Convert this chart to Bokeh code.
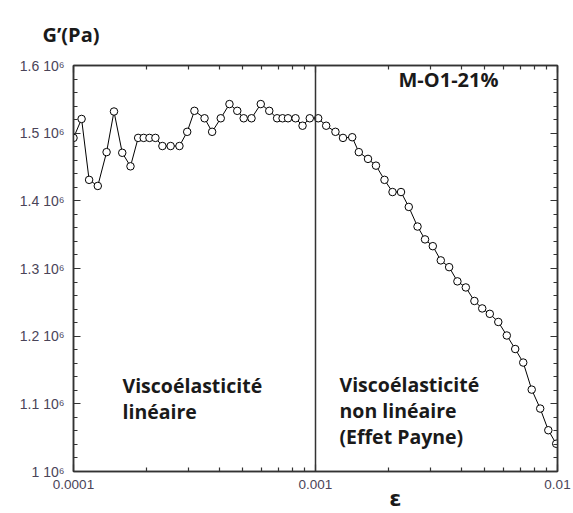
from bokeh.plotting import figure
from bokeh.models import FixedTicker, LogAxis, LinearAxis, Span, Label, Range1d, CustomJSTickFormatter
from bokeh.embed import file_html
from bokeh.resources import INLINE

# ---- data ----
strain = [1.00e-4, 1.08e-4, 1.16e-4, 1.26e-4, 1.37e-4, 1.47e-4, 1.59e-4, 1.72e-4,
          1.85e-4, 1.95e-4, 2.06e-4, 2.18e-4, 2.33e-4, 2.52e-4, 2.74e-4, 2.95e-4,
          3.16e-4, 3.48e-4, 3.74e-4, 4.06e-4, 4.41e-4, 4.75e-4, 5.05e-4, 5.44e-4,
          5.94e-4, 6.44e-4, 6.94e-4, 7.31e-4, 7.70e-4, 8.27e-4, 8.84e-4, 9.47e-4,
          1.026e-3, 1.107e-3, 1.209e-3, 1.299e-3, 1.418e-3, 1.510e-3, 1.648e-3, 1.778e-3,
          1.928e-3, 2.081e-3, 2.256e-3, 2.429e-3, 2.640e-3, 2.835e-3, 3.053e-3, 3.294e-3,
          3.566e-3, 3.858e-3, 4.180e-3, 4.536e-3, 4.885e-3, 5.251e-3, 5.693e-3, 6.173e-3,
          6.687e-3, 7.217e-3, 7.824e-3, 8.482e-3, 9.162e-3, 9.876e-3]
g_prime = [1.493e6, 1.521e6, 1.431e6, 1.422e6, 1.472e6, 1.532e6, 1.471e6, 1.451e6,
           1.493e6, 1.493e6, 1.493e6, 1.493e6, 1.481e6, 1.481e6, 1.481e6, 1.502e6,
           1.533e6, 1.522e6, 1.502e6, 1.522e6, 1.543e6, 1.533e6, 1.522e6, 1.522e6,
           1.543e6, 1.533e6, 1.522e6, 1.522e6, 1.522e6, 1.522e6, 1.511e6, 1.522e6,
           1.522e6, 1.511e6, 1.502e6, 1.493e6, 1.494e6, 1.472e6, 1.462e6, 1.452e6,
           1.431e6, 1.413e6, 1.413e6, 1.391e6, 1.362e6, 1.343e6, 1.333e6, 1.312e6,
           1.302e6, 1.281e6, 1.272e6, 1.252e6, 1.241e6, 1.233e6, 1.221e6, 1.201e6,
           1.181e6, 1.161e6, 1.121e6, 1.093e6, 1.061e6, 1.041e6]

x_ticks = [1e-4, 1e-3, 1e-2]
x_tick_labels = ["0.0001", "0.001", "0.01"]
y_ticks = [1.0e6, 1.1e6, 1.2e6, 1.3e6, 1.4e6, 1.5e6, 1.6e6]
y_tick_labels = ["1 10⁶", "1.1 10⁶", "1.2 10⁶", "1.3 10⁶", "1.4 10⁶", "1.5 10⁶", "1.6 10⁶"]
transition_strain = 1e-3
x_title = "ε"
x_title_at = 2.14e-3   # where the ε sits along the strain axis
y_title = "G’(Pa)"

x_minor = [k * 10.0 ** e for e in (-4, -3) for k in range(2, 10)]
y_minor = [1.0e6 + i * 2.0e4 for i in range(31)]

FRAME = "#333333"
LABEL_COLOR = "#4a4458"
TEXT = "#1a1a1a"

p = figure(width=573, height=513, x_axis_type="log",
           x_range=Range1d(1e-4, 1e-2), y_range=Range1d(1.0e6, 1.6e6),
           output_backend="svg", toolbar_location=None,
           min_border_left=73, min_border_right=16, min_border_top=63, min_border_bottom=39)
p.grid.visible = False
p.outline_line_color = FRAME
p.outline_line_width = 1.5
p.background_fill_color = "white"
p.border_fill_color = "white"

def style_axis(ax, ticker, show_labels):
    ax.ticker = ticker
    ax.axis_line_color = FRAME
    ax.axis_line_width = 1.5
    ax.major_tick_in = 7
    ax.major_tick_out = 0
    ax.minor_tick_in = 4
    ax.minor_tick_out = 0
    ax.major_tick_line_color = FRAME
    ax.minor_tick_line_color = FRAME
    ax.major_tick_line_width = 1.2
    ax.minor_tick_line_width = 1.2
    if not show_labels:
        ax.formatter = CustomJSTickFormatter(code="return ''")
        ax.major_label_standoff = 0
        ax.major_label_text_font_size = "1px"

style_axis(p.xaxis[0], FixedTicker(ticks=x_ticks, minor_ticks=x_minor), True)
style_axis(p.yaxis[0], FixedTicker(ticks=y_ticks, minor_ticks=y_minor), True)
p.xaxis[0].major_label_overrides = dict(zip(x_ticks, x_tick_labels))
p.yaxis[0].major_label_overrides = dict(zip(y_ticks, y_tick_labels))
for ax in (p.xaxis[0], p.yaxis[0]):
    ax.major_label_text_font = "Liberation Sans"
    ax.major_label_text_color = LABEL_COLOR
p.xaxis[0].major_label_text_font_size = "13.5px"
p.yaxis[0].major_label_text_font_size = "14px"
p.xaxis[0].major_label_standoff = 8
p.yaxis[0].major_label_standoff = 9

top = LogAxis()
style_axis(top, FixedTicker(ticks=x_ticks, minor_ticks=x_minor), False)
p.add_layout(top, "above")
right = LinearAxis()
style_axis(right, FixedTicker(ticks=y_ticks, minor_ticks=y_minor), False)
p.add_layout(right, "right")

# epsilon axis title: an extra bottom axis carrying a single label
eps_axis = LogAxis(ticker=FixedTicker(ticks=[x_title_at], minor_ticks=[]))
eps_axis.major_label_overrides = {x_title_at: x_title}
eps_axis.axis_line_color = None
eps_axis.major_tick_line_color = None
eps_axis.minor_tick_line_color = None
eps_axis.major_tick_out = 0
eps_axis.major_tick_in = 0
eps_axis.major_label_standoff = -6
eps_axis.major_label_text_font = "DejaVu Sans"
eps_axis.major_label_text_font_style = "bold"
eps_axis.major_label_text_font_size = "22px"
eps_axis.major_label_text_color = TEXT
p.add_layout(eps_axis, "below")

# G'(Pa) as the title, shifted left over the y tick labels
p.title.text = y_title
p.title.align = "left"
p.title.offset = -31
p.title.standoff = 36
p.title.text_font = "Open Sans"
p.title.text_font_style = "bold"
p.title.text_font_size = "20px"
p.title.text_color = TEXT

p.add_layout(Span(location=transition_strain, dimension="height", line_color=FRAME, line_width=1.5))

p.line(strain, g_prime, line_color="black", line_width=1)
p.scatter(strain, g_prime, marker="circle", size=7.5, fill_color="white", line_color="black", line_width=1)

def lab(x, y, text, size, baseline="alphabetic"):
    p.add_layout(Label(x=x, y=y, x_units="screen", y_units="screen", text=text,
                       text_font="Open Sans", text_font_style="bold", text_font_size=size,
                       text_color=TEXT, text_baseline=baseline, text_align="left"))

lab(325, 392, "M-O1-21%", "20px", baseline="middle")
lab(49, 86, "Viscoélasticité", "19.5px")
lab(49, 60, "linéaire", "19.5px")
lab(266, 87, "Viscoélasticité", "19.5px")
lab(266, 61, "non linéaire", "19.5px")
lab(266, 35, "(Effet Payne)", "19.5px")

open("out.html", "w").write(file_html(p, INLINE))
